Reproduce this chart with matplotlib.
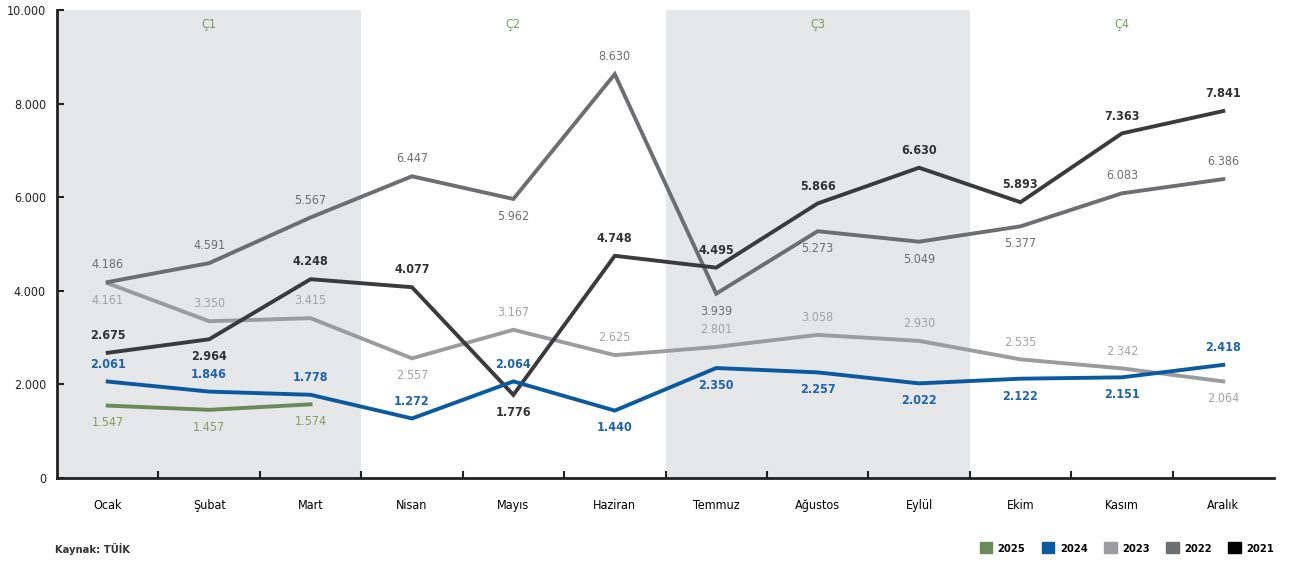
import numpy as np
import matplotlib.pyplot as plt
from matplotlib.patches import Patch

months = ['Ocak', 'Şubat', 'Mart', 'Nisan', 'Mayıs', 'Haziran', 'Temmuz',
          'Ağustos', 'Eylül', 'Ekim', 'Kasım', 'Aralık']
quarters = ['Ç1', 'Ç2', 'Ç3', 'Ç4']
y2021 = [2675, 2964, 4248, 4077, 1776, 4748, 4495, 5866, 6630, 5893, 7363, 7841]
y2022 = [4186, 4591, 5567, 6447, 5962, 8630, 3939, 5273, 5049, 5377, 6083, 6386]
y2023 = [4161, 3350, 3415, 2557, 3167, 2625, 2801, 3058, 2930, 2535, 2342, 2064]
y2024 = [2061, 1846, 1778, 1272, 2064, 1440, 2350, 2257, 2022, 2122, 2151, 2418]
y2025 = [1547, 1457, 1574]
# label side: 1 above, -1 below
pos2021 = [1, -1, 1, 1, -1, 1, 1, 1, 1, 1, 1, 1]
pos2022 = [1, 1, 1, 1, -1, 1, -1, -1, -1, -1, 1, 1]
pos2023 = [-1, 1, 1, -1, 1, 1, 1, 1, 1, 1, 1, -1]
pos2024 = [1, 1, 1, 1, 1, -1, -1, -1, -1, -1, -1, 1]
pos2025 = [-1, -1, -1]

plt.rcParams['font.family'] = ['DejaVu Sans']
plt.rcParams['font.stretch'] = 'condensed'

fig = plt.figure(figsize=(12.94, 5.65), dpi=100)
ax = fig.add_axes([57/1294, 87/565, 1217/1294, 468/565])

x = np.arange(12)
for q in (0, 2):
    ax.axvspan(3*q - 0.5, 3*q + 2.5, color='#e6e7e8', lw=0, zorder=0)
for i, q in enumerate(quarters):
    ax.text(3*i + 1, 9700, q, ha='center', va='center', color='#7d9a5e', fontsize=9)

def fmt(v):
    return f'{v:,}'.replace(',', '.')

series = [
    (y2023, pos2023, '#9c9c9e', '#a3a3a5', 'normal', '2023'),
    (y2022, pos2022, '#6d6e71', '#6d6e71', 'normal', '2022'),
    (y2021, pos2021, '#3b3b3d', '#333333', 'bold', '2021'),
    (y2024, pos2024, '#0b5aa0', '#1f63aa', 'bold', '2024'),
    (y2025, pos2025, '#6b8a5a', '#8c9a62', 'normal', '2025'),
]
for vals, pos, lc, tc, fw, name in series:
    xs = x[:len(vals)]
    ax.plot(xs, vals, color=lc, lw=2.8, solid_joinstyle='miter', zorder=3)
    for xi, v, p in zip(xs, vals, pos):
        ax.annotate(fmt(v), (xi, v), xytext=(0, 12.5*p), textcoords='offset points',
                    ha='center', va='center', color=tc, fontsize=9, fontweight=fw, zorder=4)

ax.set_xlim(-0.5, 11.5)
ax.set_ylim(0, 10000)
ax.set_yticks(range(0, 10001, 2000))
ax.set_yticklabels([fmt(v) for v in range(0, 10001, 2000)], fontsize=9)
ax.set_xticks(x)
ax.set_xticklabels(months, fontsize=9)
ax.set_xticks(np.arange(0.5, 11, 1), minor=True)
ax.tick_params(axis='x', which='major', length=0, pad=15)
ax.tick_params(axis='x', which='minor', length=5, width=1.5, direction='in', colors='#222222')
ax.tick_params(axis='y', length=5, width=1.5, direction='in', colors='#222222', pad=8)
for s in ('top', 'right'):
    ax.spines[s].set_visible(False)
for s in ('left', 'bottom'):
    ax.spines[s].set_linewidth(2)
    ax.spines[s].set_color('#222222')

fig.text(55/1294, 1 - 549/565, 'Kaynak: TÜİK', fontsize=8, fontweight='bold',
         color='#333333', va='center')
handles = [Patch(color=c, label=l) for c, l in
           [('#6b8a5a', '2025'), ('#0b5aa0', '2024'), ('#9c9c9e', '2023'),
            ('#6d6e71', '2022'), ('#000000', '2021')]]
fig.legend(handles=handles, loc='center right', bbox_to_anchor=(1284/1294, 1 - 548/565),
           ncol=5, frameon=False, handlelength=1.1, handleheight=1.1,
           columnspacing=1.5, handletextpad=0.5, prop={'weight': 'bold', 'size': 8})

fig.savefig('out.png', dpi=100)
